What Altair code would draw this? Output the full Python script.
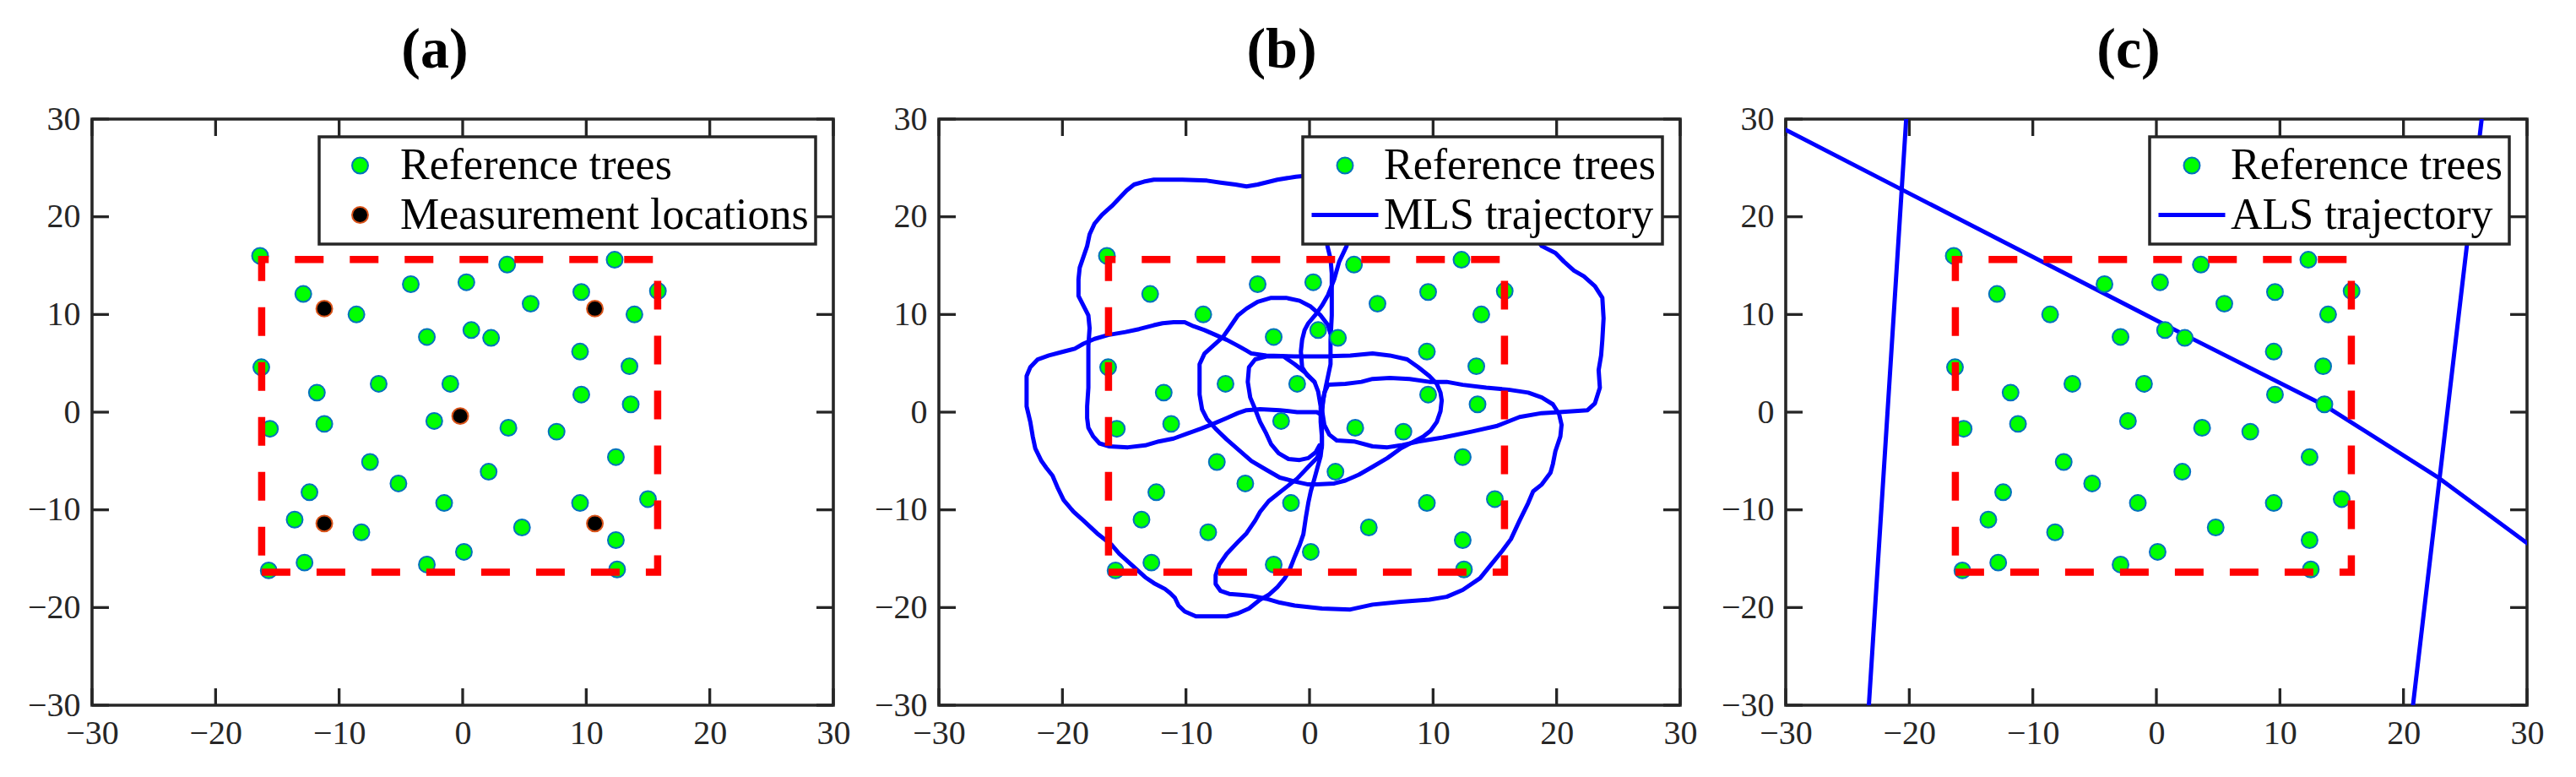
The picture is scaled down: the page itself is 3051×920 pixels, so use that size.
import altair as alt
import pandas as pd

# ---------------- data (metres) ----------------
TICKS = [-30, -20, -10, 0, 10, 20, 30]

TREE_X = [-16.4, -12.9, -4.2, 0.3, 3.6, 12.3, 15.8, 9.6, 5.5, 13.9, -8.6, -2.9, 0.7, 2.3, 9.5,
          -16.3, 13.5, -11.8, -6.8, -1.0, 9.6, 13.6, -15.6, -11.2, -2.3, 3.7, 7.6, -7.5, 2.1,
          12.4, -5.2, -12.4, -1.5, 9.5, 15.0, -13.6, -8.2, 4.8, 12.4, -12.8, -2.9, 0.1, -15.7, 12.5]
TREE_Y = [16.0, 12.1, 13.1, 13.3, 15.1, 15.6, 12.4, 12.3, 11.1, 10.0, 10.0, 7.7, 8.4, 7.6, 6.2,
          4.6, 4.7, 2.0, 2.9, 2.9, 1.8, 0.8, -1.7, -1.2, -0.9, -1.6, -2.0, -5.1, -6.1,
          -4.6, -7.3, -8.2, -9.3, -9.3, -8.9, -11.0, -12.3, -11.8, -13.1, -15.4, -15.6, -14.3, -16.2, -16.1]

MEAS_X = [-11.2, 10.7, -0.2, -11.2, 10.7]
MEAS_Y = [10.6, 10.6, -0.4, -11.4, -11.4]

RECT_X = [-16.27, 15.78, 15.78, -16.27, -16.27]
RECT_Y = [-16.39, -16.39, 15.63, 15.63, -16.39]

MLS_1 = [(-0.2, 24.2), (-1.1, 24.1), (-2.6, 23.8), (-4.2, 23.3), (-5.1, 23.1), (-6.0, 23.3), (-7.2, 23.5),
         (-8.3, 23.7), (-10.3, 23.8), (-12.6, 23.8), (-13.4, 23.6), (-14.2, 23.3), (-14.8, 22.7), (-15.4, 21.9),
         (-16.0, 21.1), (-16.8, 20.2), (-17.4, 19.3), (-17.8, 18.2), (-18.0, 17.0), (-18.3, 15.9), (-18.6, 14.8),
         (-18.7, 13.6), (-18.7, 11.9), (-18.3, 10.9), (-17.9, 9.9), (-17.8, 8.6), (-17.9, 6.8), (-17.9, 4.3),
         (-17.9, 2.5), (-18.0, 0.6), (-18.0, -0.6), (-17.9, -1.6), (-17.5, -2.5), (-17.0, -3.2), (-16.2, -3.5),
         (-14.7, -3.6), (-13.3, -3.4), (-12.2, -3.0), (-11.0, -2.7), (-9.9, -2.2), (-8.8, -1.7), (-7.8, -1.2),
         (-6.7, -0.6), (-5.8, -0.1), (-5.1, 0.2), (-4.0, 0.3), (-2.4, 0.2), (-1.0, 0.0), (0.6, 0.0), (1.0, -0.3)]

MLS_2 = [(1.4, 18.8), (1.45, 17.0), (1.7, 15.7), (1.8, 14.2), (1.8, 12.0), (1.8, 9.9), (1.7, 7.4), (1.7, 4.9),
         (1.5, 3.7), (1.3, 2.5), (1.1, 1.2), (1.0, -0.3), (1.0, -1.9), (1.0, -3.4), (0.9, -4.5), (0.7, -5.4),
         (0.4, -6.8), (0.1, -8.1), (-0.1, -9.3), (-0.3, -10.8), (-0.5, -12.5), (-0.8, -13.6), (-1.2, -14.8),
         (-1.6, -16.1), (-2.0, -17.0), (-2.6, -17.9), (-3.3, -18.7), (-4.0, -19.2), (-4.9, -20.1), (-5.8, -20.6),
         (-6.7, -20.9), (-8.1, -20.9), (-9.2, -20.9), (-10.1, -20.4), (-10.6, -19.8), (-10.9, -19.0),
         (-11.3, -18.5), (-11.7, -18.1), (-12.6, -17.5), (-13.3, -16.9), (-14.0, -16.1), (-14.7, -15.3),
         (-15.4, -14.5), (-16.0, -13.6), (-17.2, -12.4), (-18.3, -11.1), (-19.1, -10.2), (-19.9, -9.0),
         (-20.4, -7.7), (-20.8, -6.5), (-21.3, -5.7), (-21.7, -5.0), (-22.2, -3.7), (-22.4, -2.5), (-22.6, -1.0),
         (-22.9, 0.6), (-22.9, 2.5), (-22.9, 3.7), (-22.6, 4.6), (-22.0, 5.4), (-21.1, 5.8), (-19.9, 6.2),
         (-19.0, 6.5), (-18.3, 7.0), (-17.4, 7.5), (-16.3, 7.9), (-14.9, 8.2), (-13.8, 8.5), (-12.6, 8.9),
         (-11.9, 9.1), (-11.0, 9.2), (-10.1, 9.2), (-9.4, 8.8), (-8.5, 8.4), (-7.6, 7.9), (-6.7, 7.4), (-5.8, 6.8),
         (-5.1, 6.3), (-4.7, 6.0), (-3.5, 5.8), (-1.2, 5.7), (1.0, 5.7), (3.3, 5.8), (5.1, 6.0), (6.5, 5.8),
         (7.9, 5.4), (8.8, 4.6), (9.7, 3.7), (10.3, 2.9), (10.6, 2.0), (10.7, 1.2), (10.6, 0.1), (10.3, -1.0),
         (9.8, -1.9), (9.2, -2.5), (8.3, -3.1), (7.4, -3.7), (6.3, -4.7), (5.1, -5.6), (4.0, -6.4), (2.9, -7.0),
         (2.0, -7.3), (0.6, -7.4), (-0.1, -7.4), (-1.2, -7.1), (-2.4, -6.7), (-3.5, -5.9), (-4.7, -5.0),
         (-5.8, -3.8), (-6.7, -2.8), (-7.6, -1.7), (-8.3, -0.7), (-8.7, 0.3), (-8.9, 1.8), (-8.9, 3.7),
         (-8.9, 4.9), (-8.5, 6.0), (-7.8, 6.8), (-7.0, 7.7), (-6.5, 8.6), (-5.8, 9.9), (-5.1, 10.6), (-4.2, 11.3),
         (-3.1, 11.7), (-1.9, 11.7), (-0.8, 11.4), (0.1, 10.8), (0.9, 9.9), (1.5, 8.9), (1.7, 8.0)]

MLS_3 = [(3.2, 18.8), (3.0, 17.0), (2.4, 15.4), (2.0, 13.6), (1.5, 12.0), (1.0, 10.9), (0.5, 10.0), (-0.1, 9.1),
         (-0.4, 8.4), (-0.6, 7.4), (-0.7, 6.2), (-0.6, 4.6), (-0.2, 3.8), (0.4, 3.1), (0.7, 2.1), (0.9, 0.6),
         (0.9, -1.0), (1.0, -2.5), (1.0, -3.6), (0.6, -4.7), (-0.1, -5.6), (-1.0, -6.8), (-2.1, -7.9),
         (-3.3, -9.1), (-4.0, -10.2), (-4.4, -11.1), (-5.1, -12.4), (-5.8, -13.3), (-6.7, -14.5), (-7.3, -15.6),
         (-7.6, -16.7), (-7.6, -17.6), (-7.2, -18.3), (-6.5, -18.6), (-5.6, -18.7), (-4.7, -18.8), (-3.5, -19.1),
         (-2.4, -19.5), (-1.2, -19.8), (1.0, -20.1), (3.3, -20.2), (5.1, -19.7), (7.4, -19.4), (9.7, -19.2),
         (11.1, -18.9), (12.4, -18.2), (13.8, -17.0), (14.7, -15.6), (15.6, -14.2), (16.3, -13.0), (17.0, -11.1),
         (17.7, -9.3), (18.1, -8.1), (18.8, -7.4), (19.5, -6.2), (19.7, -5.3), (19.9, -4.0), (20.3, -2.5),
         (20.4, -1.3), (20.2, -0.2), (19.7, 0.8), (18.8, 1.5), (17.7, 2.0), (16.1, 2.3), (14.3, 2.5), (12.4, 2.8),
         (11.1, 3.1), (9.7, 3.1), (8.1, 3.4), (6.5, 3.5), (5.1, 3.4), (4.2, 3.1), (2.9, 2.9), (1.5, 2.8),
         (1.2, 2.0), (1.0, 0.3), (1.2, -1.3), (1.6, -2.3), (2.2, -2.9), (3.6, -3.0), (5.1, -3.5), (6.3, -3.6),
         (7.4, -3.4), (8.8, -3.0), (10.8, -2.6), (13.1, -2.0), (15.2, -1.4), (17.0, -0.5), (18.8, -0.1),
         (20.2, 0.0), (22.5, 0.2), (23.1, 0.9), (23.5, 2.5), (23.4, 4.3), (23.6, 5.8), (23.7, 7.4), (23.8, 9.6),
         (23.7, 11.7), (23.1, 12.9), (22.2, 13.9), (21.4, 14.5), (20.6, 15.4), (19.9, 16.3), (18.8, 17.0),
         (17.9, 18.5)]

MLS_4 = [(0.8, -3.4), (0.5, -4.1), (-0.1, -4.7), (-0.8, -4.9), (-1.7, -4.8), (-2.5, -4.2), (-3.1, -3.3),
         (-3.5, -2.2), (-4.0, -1.0), (-4.4, 0.3), (-4.8, 1.5), (-5.0, 3.1), (-4.9, 4.6), (-4.4, 5.4),
         (-3.5, 5.7), (-2.1, 5.7), (-1.2, 4.9), (-0.3, 4.0), (0.4, 3.1)]

ALS_1 = [(-30.0, 28.9), (-20.55, 22.75), (2.3, 7.9), (13.6, 0.7), (22.7, -6.6), (30.0, -13.4)]
ALS_2 = [(-20.25, 30.0), (-23.27, -30.0)]
ALS_3 = [(26.33, 30.0), (20.77, -30.0)]

# ---------------- style ----------------
FONT = "Liberation Serif"
INK = "#262626"
W, H = 878, 694
TICK_LEN = 20
CIRCLE = "M-0.5,0M0.5,0M-0.24,0A0.24,0.24 0 1,0 0.24,0A0.24,0.24 0 1,0 -0.24,0Z"


def traj_frame(strands, name):
    rows = []
    for s, pts in enumerate(strands):
        for i, (x, y) in enumerate(pts):
            rows.append({"x": x, "y": y, "seg": s, "i": i, "series": name})
    return pd.DataFrame(rows)


trees = pd.DataFrame({"x": TREE_X, "y": TREE_Y, "series": "Reference trees"})
meas = pd.DataFrame({"x": MEAS_X, "y": MEAS_Y, "series": "Measurement locations"})
rect = pd.DataFrame({"x": RECT_X, "y": RECT_Y, "i": list(range(len(RECT_X)))})
tick_x = pd.DataFrame({"x": TICKS})
tick_y = pd.DataFrame({"y": TICKS})


def panel(letter, pts, traj, domain, fills, strokes, shapes, widths, lab_off):
    xs = alt.Scale(domain=[-30, 30], nice=False, zero=False)
    ys = alt.Scale(domain=[-30, 30], nice=False, zero=False)
    common = dict(values=TICKS, domain=False, ticks=False, tickSize=0, grid=False, title=None,
                  labelFont=FONT, labelFontSize=40, labelColor=INK, labelFlush=False,
                  labelOverlap=False, labelBound=False)
    xax = alt.Axis(labelPadding=13, **common)
    yax = alt.Axis(labelPadding=14, **common)
    X = alt.X("x:Q", scale=xs, axis=xax)
    Y = alt.Y("y:Q", scale=ys, axis=yax)
    leg = alt.Legend(title=None, orient="top-right", offset=21, padding=8, rowPadding=6.5,
                     clipHeight=52,
                     labelOffset=lab_off, labelFont=FONT, labelFontSize=52, labelColor="black",
                     labelLimit=3000, symbolSize=6241, symbolOpacity=1, strokeColor=INK,
                     fillColor="white", symbolOffset=0)

    def fill_enc():
        return alt.Fill("series:N", scale=alt.Scale(domain=domain, range=fills), legend=leg)

    def stroke_enc():
        return alt.Stroke("series:N", scale=alt.Scale(domain=domain, range=strokes), legend=leg)

    def shape_enc():
        return alt.Shape("series:N", scale=alt.Scale(domain=domain, range=shapes), legend=leg)

    def sw_enc():
        return alt.StrokeWidth("series:N", scale=alt.Scale(type="ordinal", domain=domain, range=widths),
                               legend=leg)

    t_top = alt.Chart(tick_x).mark_rule(color=INK, strokeWidth=3.3).encode(
        x=X, y=alt.value(0), y2=alt.value(TICK_LEN))
    t_bot = alt.Chart(tick_x).mark_rule(color=INK, strokeWidth=3.3).encode(
        x=X, y=alt.value(H - TICK_LEN), y2=alt.value(H))
    t_left = alt.Chart(tick_y).mark_rule(color=INK, strokeWidth=3.3).encode(
        y=Y, x=alt.value(0), x2=alt.value(TICK_LEN))
    t_right = alt.Chart(tick_y).mark_rule(color=INK, strokeWidth=3.3).encode(
        y=Y, x=alt.value(W - TICK_LEN), x2=alt.value(W))

    layers = [t_top, t_bot, t_left, t_right]
    if traj is not None:
        layers.append(
            alt.Chart(traj).mark_line(clip=True, strokeJoin="round", strokeCap="round").encode(
                x=X, y=Y, detail="seg:N", order="i:Q", stroke=stroke_enc(), strokeWidth=sw_enc()))
    layers.append(
        alt.Chart(pts).mark_point(size=6241, opacity=1, filled=True, fillOpacity=1, strokeOpacity=1).encode(
            x=X, y=Y, fill=fill_enc(), stroke=stroke_enc(), shape=shape_enc(), strokeWidth=sw_enc()))
    layers.append(
        alt.Chart(rect).mark_line(clip=True, strokeDash=[34, 31], color="#ff0000", strokeWidth=8.5).encode(
            x=X, y=Y, order="i:Q"))

    return alt.layer(*layers).properties(
        width=W, height=H,
        title=alt.TitleParams(text=f"({letter})", font=FONT, fontSize=68, fontWeight="bold",
                              color="black", anchor="middle", frame="group", dx=-33, offset=27))


pa = panel("a", pd.concat([trees, meas], ignore_index=True), None,
           ["Reference trees", "Measurement locations"], ["#00ff00", "#000000"],
           ["#0072bd", "#d95319"], [CIRCLE, CIRCLE], [2, 2], 7)
pb = panel("b", trees.copy(), traj_frame([MLS_1, MLS_2, MLS_3, MLS_4], "MLS trajectory"),
           ["Reference trees", "MLS trajectory"], ["#00ff00", "#0000ff"],
           ["#0072bd", "#0000ff"], [CIRCLE, "stroke"], [2, 5], 4)
pc = panel("c", trees.copy(), traj_frame([ALS_1, ALS_2, ALS_3], "ALS trajectory"),
           ["Reference trees", "ALS trajectory"], ["#00ff00", "#0000ff"],
           ["#0072bd", "#0000ff"], [CIRCLE, "stroke"], [2, 5], 4)

chart = alt.hconcat(pa, pb, pc, spacing=125, bounds="flush").resolve_scale(
    x="independent", y="independent",
    fill="independent", stroke="independent", shape="independent", strokeWidth="independent",
).resolve_legend(
    fill="independent", stroke="independent", shape="independent", strokeWidth="independent",
).properties(
    padding={"left": 22, "top": 16, "right": 10, "bottom": 10},
    background="white",
).configure_view(stroke=INK, strokeWidth=3.6).configure_legend(strokeWidth=3.5)

chart.save("out.html", embed_options={"renderer": "svg", "actions": False})
